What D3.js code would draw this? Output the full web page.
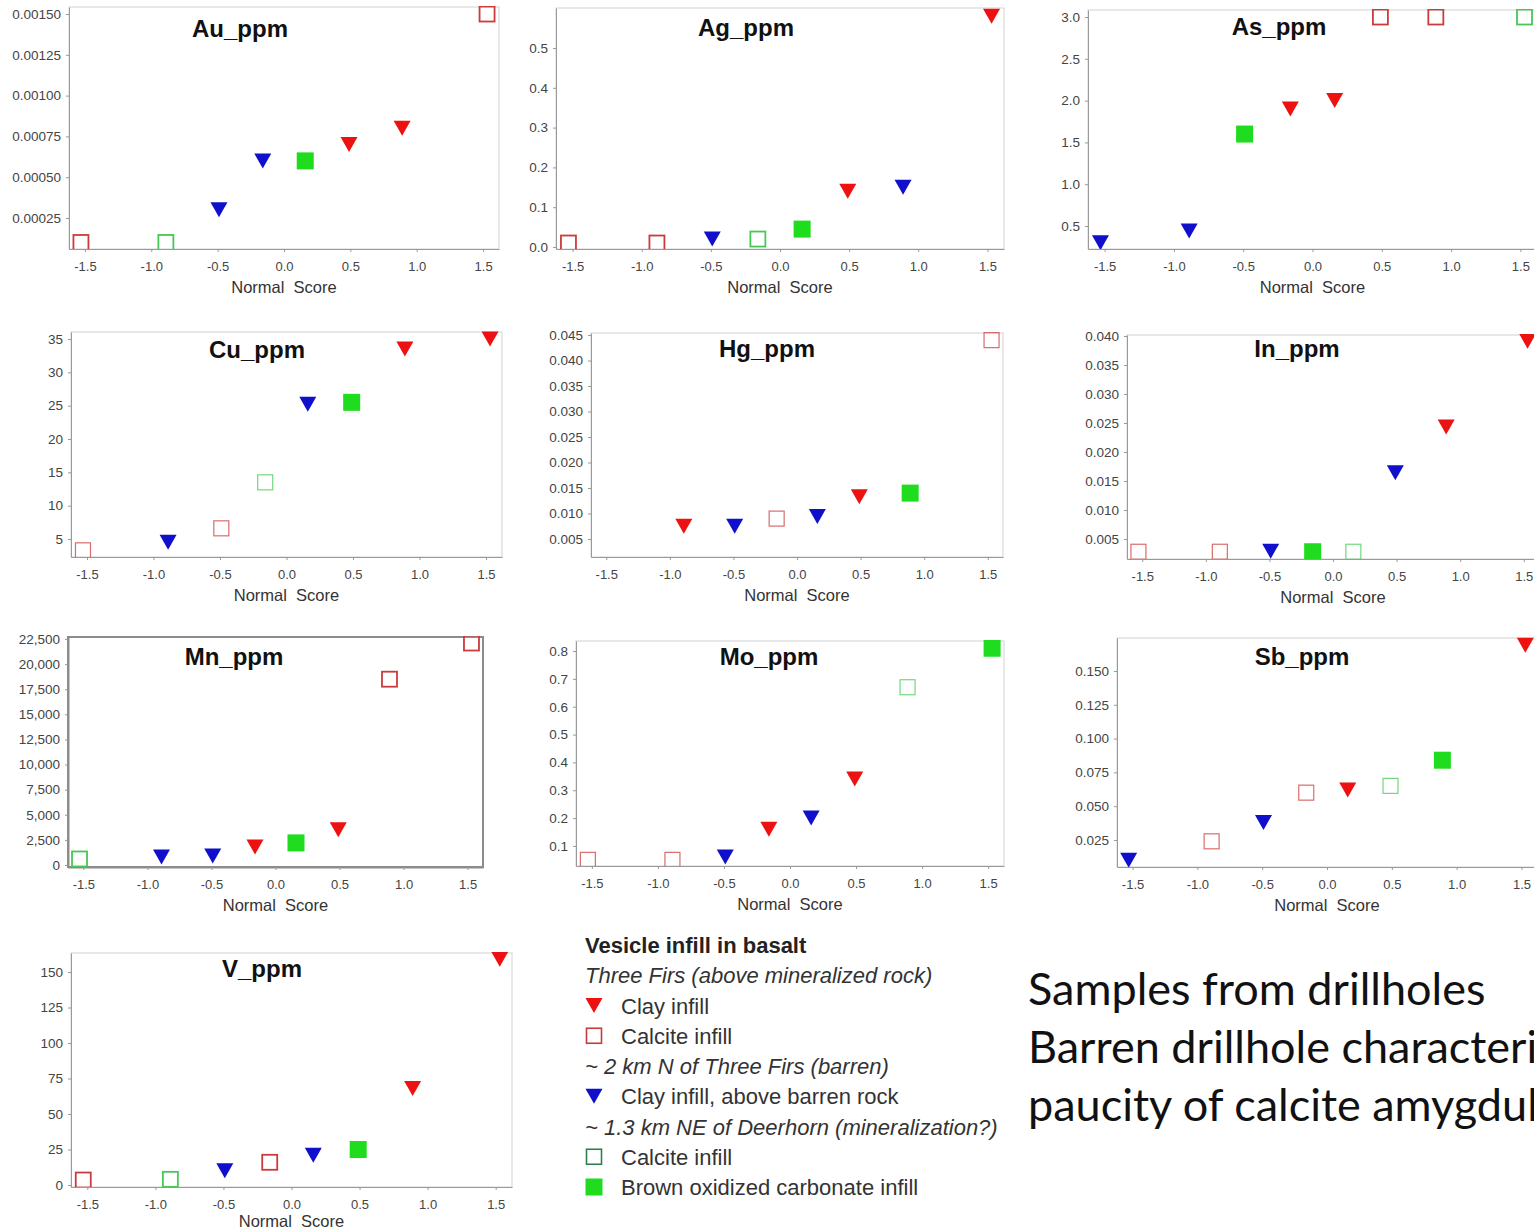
<!DOCTYPE html>
<html lang="en">
<head>
<meta charset="UTF-8"/>
<title>Normal score plots - vesicle infill in basalt</title>
<script src="https://d3js.org/d3.v7.min.js"></script>
<style>
    body { margin: 0; background: #fff; }
    text { font-family: "Liberation Sans", Arial, sans-serif; }
    .tick text { fill: #444; font-size: 13px; }
    .yaxis .tick text { font-size: 13.5px; }
    .tick line { stroke: #999; }
    .title { font-size: 24px; font-weight: bold; fill: #111; }
    .xlabel { font-size: 16.5px; fill: #333; }
    .legend text { font-size: 22px; fill: #333; }
    .note { font-family: Lato, "Open Sans", sans-serif; font-size: 45px; fill: #111; }
</style>
</head>
<body>
<div id="chart"></div>
<script>
// normal scores (x) shared by every plot, 8 samples
const normalScores = [-1.53, -0.89, -0.49, -0.16, 0.16, 0.49, 0.89, 1.53];
const xTicks = [-1.5, -1.0, -0.5, 0.0, 0.5, 1.0, 1.5];

// sample group of each point, in the order of normalScores
// R clay infill (Three Firs), r calcite infill (Three Firs), B clay above barren rock,
// g calcite infill (Deerhorn), G brown oxidized carbonate infill (Deerhorn)
const auGroups = ["r", "g", "B", "B", "G", "R", "R", "r"];
const auValues = [0.0001, 0.0001, 0.0003, 0.0006, 0.0006, 0.0007, 0.0008, 0.0015];
const auTicks = [0.00025, 0.0005, 0.00075, 0.001, 0.00125, 0.0015];

const agGroups = ["r", "r", "B", "g", "G", "R", "B", "R"];
const agValues = [0.01, 0.01, 0.02, 0.02, 0.045, 0.14, 0.15, 0.58];
const agTicks = [0, 0.1, 0.2, 0.3, 0.4, 0.5];

const asGroups = ["B", "B", "G", "R", "R", "r", "r", "g"];
const asValues = [0.3, 0.44, 1.6, 1.9, 2.0, 3.0, 3.0, 3.0];
const asTicks = [0.5, 1.0, 1.5, 2.0, 2.5, 3.0];

const cuGroups = ["r", "B", "r", "g", "B", "G", "R", "R"];
const cuValues = [3.3, 4.5, 6.6, 13.5, 25.2, 25.5, 33.5, 35];
const cuTicks = [5, 10, 15, 20, 25, 30, 35];

// Hg: no value plotted for the first sample
const hgGroups = [null, "R", "B", "r", "B", "R", "G", "r"];
const hgValues = [null, 0.0075, 0.0075, 0.009, 0.0094, 0.0133, 0.014, 0.044];
const hgTicks = [0.005, 0.01, 0.015, 0.02, 0.025, 0.03, 0.035, 0.04, 0.045];

const inGroups = ["r", "r", "B", "G", "g", "B", "R", "R"];
const inValues = [0.0028, 0.0028, 0.0029, 0.0028, 0.0028, 0.0164, 0.0243, 0.0391];
const inTicks = [0.005, 0.01, 0.015, 0.02, 0.025, 0.03, 0.035, 0.04];

const mnGroups = ["g", "B", "B", "R", "G", "R", "r", "r"];
const mnValues = [600, 800, 900, 1800, 2200, 3500, 18500, 22100];
const mnTicks = [0, 2500, 5000, 7500, 10000, 12500, 15000, 17500, 20000, 22500];

const moGroups = ["r", "r", "B", "R", "B", "R", "g", "G"];
const moValues = [0.05, 0.05, 0.06, 0.16, 0.2, 0.34, 0.67, 0.81];
const moTicks = [0.1, 0.2, 0.3, 0.4, 0.5, 0.6, 0.7, 0.8];

const sbGroups = ["B", "r", "B", "r", "R", "g", "G", "R"];
const sbValues = [0.01, 0.024, 0.038, 0.06, 0.062, 0.065, 0.084, 0.169];
const sbTicks = [0.025, 0.05, 0.075, 0.1, 0.125, 0.15];

const vGroups = ["r", "g", "B", "r", "B", "G", "R", "R"];
const vValues = [3.5, 4, 10, 16, 21, 25, 68, 159];
const vTicks = [0, 25, 50, 75, 100, 125, 150];

const legendRows = [
    {kind: "head", text: "Vesicle infill in basalt"},
    {kind: "sub", text: "Three Firs (above mineralized rock)"},
    {kind: "item", group: "R", text: "Clay infill"},
    {kind: "item", group: "r", text: "Calcite infill"},
    {kind: "sub", text: "~ 2 km N of Three Firs (barren)"},
    {kind: "item", group: "B", text: "Clay infill, above barren rock"},
    {kind: "sub", text: "~ 1.3 km NE of Deerhorn (mineralization?)"},
    {kind: "item", group: "g", text: "Calcite infill"},
    {kind: "item", group: "G", text: "Brown oxidized carbonate infill"}
];

const noteLines = ["Samples from drillholes", "Barren drillhole characterized by", "paucity of calcite amygdules"];

// panel layout: box = [left, top, right, bottom] of the plot frame
const panels = [
    {name: "Au_ppm", groups: auGroups, values: auValues, ticks: auTicks, fmt: ".5f", yDomain: [0.00006, 0.001543], box: [69, 7, 499, 249], title: [240, 37], sw: 1.8},
    {name: "Ag_ppm", groups: agGroups, values: agValues, ticks: agTicks, fmt: ".1f", yDomain: [-0.005, 0.6005], box: [556, 8, 1004, 249], title: [746, 36], sw: 1.8},
    {name: "As_ppm", groups: asGroups, values: asValues, ticks: asTicks, fmt: ".1f", yDomain: [0.225, 3.084], box: [1088, 10, 1537, 249], title: [1279, 35], sw: 1.8},
    {name: "Cu_ppm", groups: cuGroups, values: cuValues, ticks: cuTicks, fmt: "d", yDomain: [2.3, 36.05], box: [71, 332, 502, 557], title: [257, 358], sw: 1.2},
    {name: "Hg_ppm", groups: hgGroups, values: hgValues, ticks: hgTicks, fmt: ".3f", yDomain: [0.00147, 0.0454], box: [591, 333, 1003, 557], title: [767, 357], sw: 1.2},
    {name: "In_ppm", groups: inGroups, values: inValues, ticks: inTicks, fmt: ".3f", yDomain: [0.00155, 0.04017], box: [1127, 335, 1539, 559], title: [1297, 357], sw: 1.2},
    {name: "Mn_ppm", groups: mnGroups, values: mnValues, ticks: mnTicks, fmt: ",", yDomain: [-200, 22700], box: [68, 637, 483, 867], title: [234, 665], sw: 1.8, frame: "#8c8c8c", frameW: 2},
    {name: "Mo_ppm", groups: moGroups, values: moValues, ticks: moTicks, fmt: ".1f", yDomain: [0.028, 0.836], box: [576, 641, 1004, 866], title: [769, 665], sw: 1.2},
    {name: "Sb_ppm", groups: sbGroups, values: sbValues, ticks: sbTicks, fmt: ".3f", yDomain: [0.005, 0.1744], box: [1117, 638, 1537, 867], title: [1302, 665], sw: 1.2},
    {name: "V_ppm", groups: vGroups, values: vValues, ticks: vTicks, fmt: "d", yDomain: [-1.4, 163.4], box: [71, 953, 512, 1187], title: [262, 977], sw: 1.8, labelDy: 40}
];

const xDomain = [-1.62, 1.62];

const groupColor = {R: "#ee1111", r: "#cc3b3b", B: "#1010cc", g: "#45c856", G: "#1fdc1f"};
const triPath = "M-8.5,-7.5L8.5,-7.5L0,7.5Z";

const svg = d3.select("#chart")
    .append("svg")
    .attr("width", 1534)
    .attr("height", 1232);

svg.append("rect").attr("width", 1534).attr("height", 1232).attr("fill", "#fff");

// draw one marker into a <g>
function drawMarker(g, group, sw, legend) {
    if (group === "R" || group === "B") {
        g.append("path").attr("d", triPath).attr("fill", groupColor[group]);
    } else if (group === "G") {
        g.append("rect").attr("x", -8.5).attr("y", -8.5).attr("width", 17).attr("height", 17)
            .attr("fill", groupColor[group]);
    } else {
        let col = groupColor[group];
        if (legend && group === "g") col = "#2f7f4f";
        g.append("rect").attr("x", -7.5).attr("y", -7.5).attr("width", 15).attr("height", 15)
            .attr("fill", "none").attr("stroke", col).attr("stroke-width", sw)
            .attr("stroke-opacity", sw < 1.5 ? 0.75 : 1);
    }
}

panels.forEach(function(p, i) {
    const [l, t, r, b] = p.box;
    const x = d3.scaleLinear().domain(xDomain).range([l, r]);
    const y = d3.scaleLinear().domain(p.yDomain).range([b, t]);

    const panel = svg.append("g").attr("class", "panel");

    // frame
    panel.append("rect")
        .attr("x", l).attr("y", t).attr("width", r - l).attr("height", b - t)
        .attr("fill", "none")
        .attr("stroke", p.frame || "#d2d2d2")
        .attr("stroke-width", p.frameW || 1);

    // X axis
    panel.append("g")
        .attr("class", "axis")
        .attr("transform", "translate(0," + b + ")")
        .call(d3.axisBottom(x).tickValues(xTicks).tickSize(3).tickSizeOuter(0).tickPadding(10)
            .tickFormat(function(d) { return d.toFixed(1); }));

    // Y axis
    panel.append("g")
        .attr("class", "axis yaxis")
        .attr("transform", "translate(" + l + ",0)")
        .call(d3.axisLeft(y).tickValues(p.ticks).tickSize(3).tickSizeOuter(0).tickPadding(5)
            .tickFormat(d3.format(p.fmt)));

    panel.selectAll(".axis path.domain")
        .attr("stroke", p.frame || "#9a9a9a")
        .attr("stroke-width", p.frameW || 1);

    panel.append("text")
        .attr("class", "xlabel")
        .attr("text-anchor", "middle")
        .attr("x", (x(-1.5) + x(1.5)) / 2)
        .attr("y", b + (p.labelDy || 44))
        .attr("xml:space", "preserve")
        .text("Normal  Score");

    panel.append("text")
        .attr("class", "title")
        .attr("text-anchor", "middle")
        .attr("x", p.title[0]).attr("y", p.title[1])
        .text(p.name);

    // clip markers to the plot frame
    svg.append("clipPath").attr("id", "clip" + i)
        .append("rect").attr("x", l).attr("y", t - 1).attr("width", r - l).attr("height", b - t + 1);

    const pts = normalScores.map(function(s, k) {
        return {s: s, v: p.values[k], g: p.groups[k]};
    }).filter(function(d) { return d.v !== null; });

    const marks = panel.append("g").attr("clip-path", "url(#clip" + i + ")")
        .selectAll("g.pt")
        .data(pts)
        .enter().append("g")
        .attr("class", "pt")
        .attr("transform", function(d) { return "translate(" + x(d.s) + "," + y(d.v) + ")"; });

    marks.each(function(d) { drawMarker(d3.select(this), d.g, p.sw, false); });
});

// legend
const legendY = d3.scaleLinear().domain([0, legendRows.length - 1]).range([953, 1195]);
const legend = svg.append("g").attr("class", "legend");
legendRows.forEach(function(row, k) {
    const yy = legendY(k);
    if (row.kind === "item") {
        const m = legend.append("g").attr("transform", "translate(594," + (yy - 8) + ")");
        drawMarker(m, row.group, 1.6, true);
        legend.append("text").attr("x", 621).attr("y", yy).text(row.text);
    } else {
        legend.append("text").attr("x", 585).attr("y", yy)
            .style("font-weight", row.kind === "head" ? "bold" : "normal")
            .style("font-style", row.kind === "sub" ? "italic" : "normal")
            .style("fill", row.kind === "head" ? "#222" : "#333")
            .text(row.text);
    }
});

// note at bottom right (runs off the page edge, as in the source slide)
svg.append("g").selectAll("text")
    .data(noteLines)
    .enter().append("text")
    .attr("class", "note")
    .attr("x", 1028)
    .attr("y", function(d, k) { return 1005 + k * 58; })
    .text(function(d) { return d; });
</script>
</body>
</html>
